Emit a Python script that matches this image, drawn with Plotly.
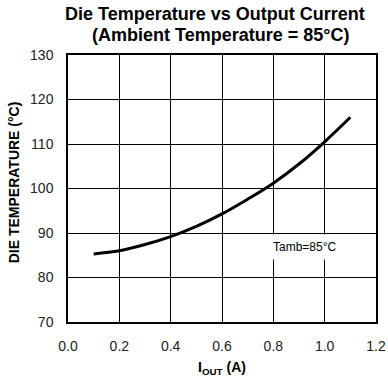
import plotly.graph_objects as go

current_a = [0.1, 0.2, 0.3, 0.4, 0.5, 0.6, 0.7, 0.8, 0.9, 1.0, 1.1]
die_temp_c = [85.3, 86.0, 87.4, 89.2, 91.5, 94.3, 97.6, 101.2, 105.5, 110.5, 116.0]
x_ticks = [0.0, 0.2, 0.4, 0.6, 0.8, 1.0, 1.2]
x_tick_labels = ["0.0", "0.2", "0.4", "0.6", "0.8", "1.0", "1.2"]
y_ticks = [70, 80, 90, 100, 110, 120, 130]

FONT = "Liberation Sans, Arial"

fig = go.Figure()
fig.add_trace(go.Scatter(
    x=current_a, y=die_temp_c, mode="lines",
    line=dict(color="black", width=3, shape="spline"),
    showlegend=False,
))

fig.add_annotation(
    x=0.923, y=86.8, text="Tamb=85°C", showarrow=False,
    font=dict(family=FONT, size=12, color="black"),
    bgcolor="white", borderpad=5,
)

# Title lines and axis titles as paper annotations
common = dict(xref="paper", yref="paper", showarrow=False,
              xanchor="center", yanchor="middle")
fig.add_annotation(x=0.477, y=1.154, text="<b>Die Temperature vs Output Current</b>",
                   font=dict(family=FONT, size=18, color="black"), **common)
fig.add_annotation(x=0.494, y=1.075, text="<b>(Ambient Temperature = 85°C)</b>",
                   font=dict(family=FONT, size=18, color="black"), **common)
fig.add_annotation(x=0.5, y=-0.172, text="<b>I<sub>OUT</sub> (A)</b>",
                   font=dict(family=FONT, size=14, color="black"), **common)
fig.add_annotation(x=-0.177, y=0.525, text="<b>DIE TEMPERATURE (°C)</b>", textangle=-90,
                   font=dict(family=FONT, size=14, color="black"), **common)

fig.update_layout(
    width=388, height=379,
    margin=dict(l=68, r=12, t=55, b=57, autoexpand=False),
    paper_bgcolor="white", plot_bgcolor="white",
    font=dict(family=FONT, color="black"),
    xaxis=dict(
        range=[0, 1.2], tickvals=x_ticks, ticktext=x_tick_labels,
        showgrid=True, gridcolor="black", gridwidth=1,
        showline=True, linecolor="black", linewidth=1.5, mirror=True,
        zeroline=False, ticks="", tickfont=dict(size=14, color="#222"),
        ticklabelstandoff=10, automargin=False,
    ),
    yaxis=dict(
        range=[70, 130], tickvals=y_ticks,
        showgrid=True, gridcolor="black", gridwidth=1,
        showline=True, linecolor="black", linewidth=1.5, mirror=True,
        zeroline=False, ticks="", tickfont=dict(size=14, color="#222"),
        ticklabelstandoff=10, automargin=False,
    ),
)

# Remove the browser's default page margin so the figure fills the window exactly.
fig.write_html(
    "out.html",
    config={"displayModeBar": False},
    post_script="document.body.style.margin='0';document.body.style.overflow='hidden';",
)
